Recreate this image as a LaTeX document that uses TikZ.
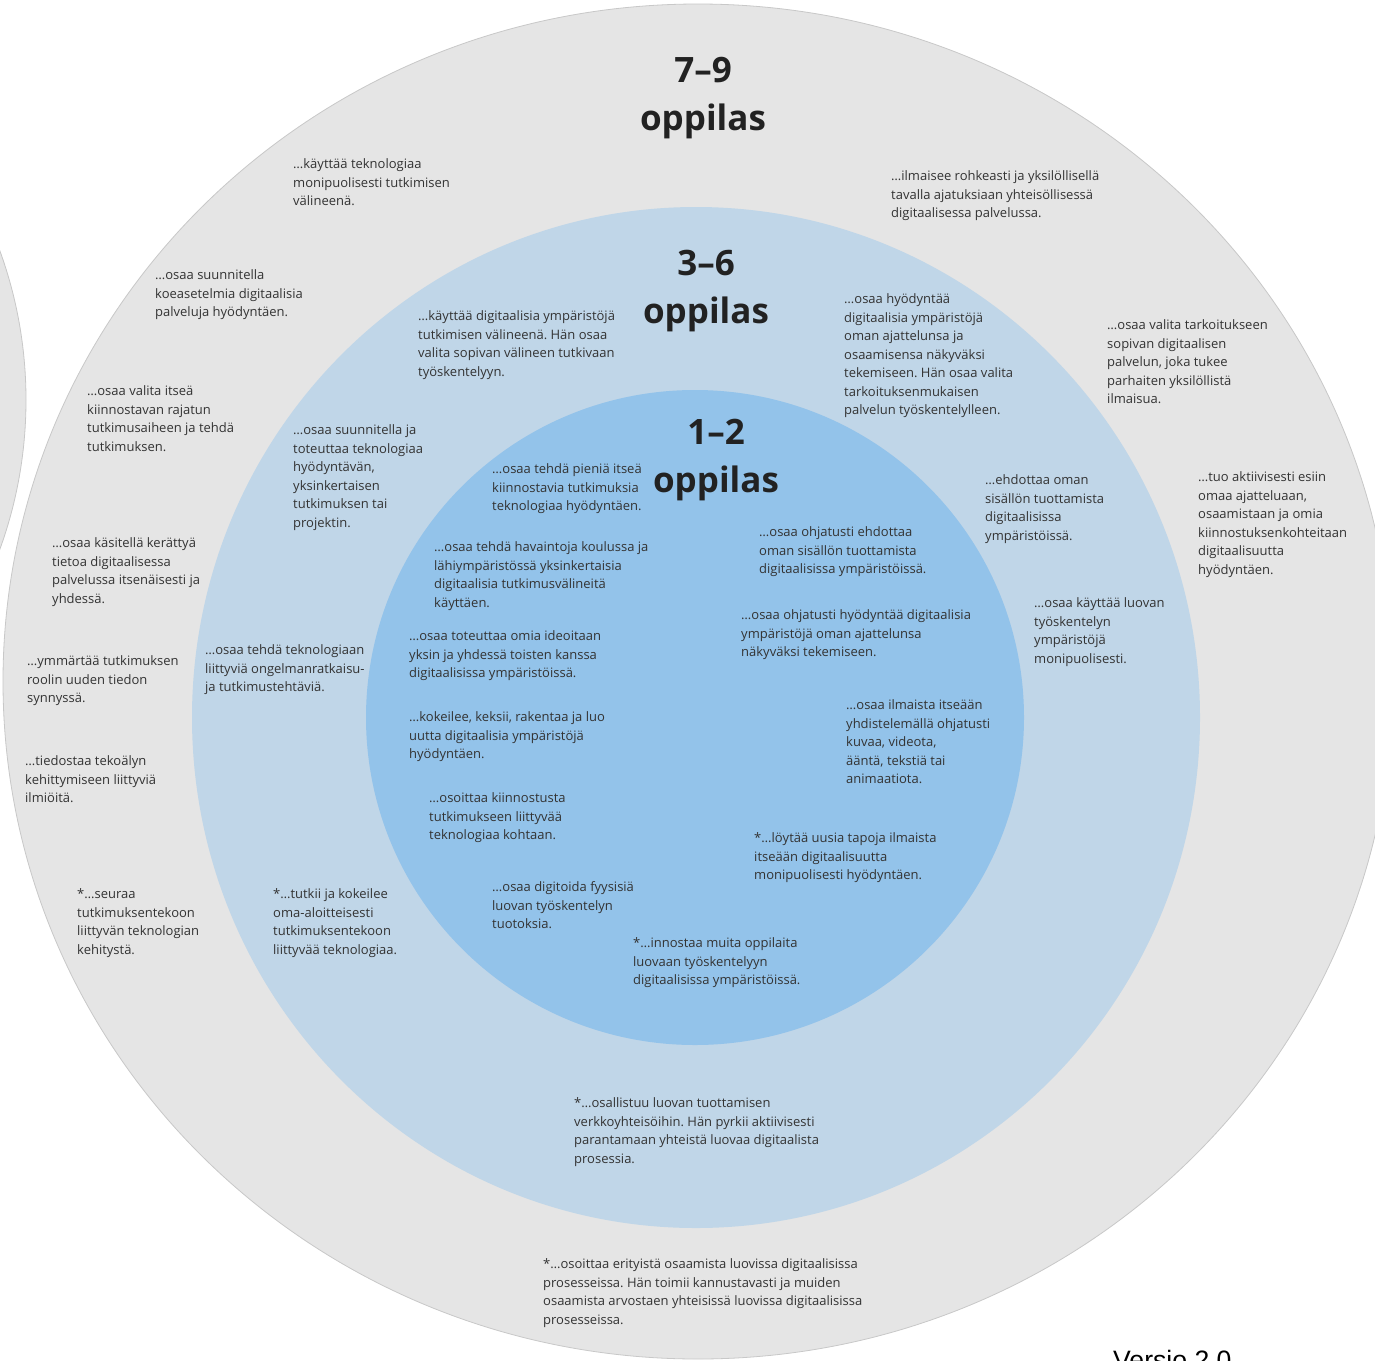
\documentclass[tikz,border=0pt]{standalone}
\usepackage{fontspec}
\setmainfont{Open Sans}
\newfontfamily\versiofont{Liberation Sans}
\definecolor{outerfill}{HTML}{E5E5E5}
\definecolor{outerline}{HTML}{C8C8C8}
\definecolor{midfill}{HTML}{C0D6E8}
\definecolor{innerfill}{HTML}{93C3EA}
\definecolor{txtgray}{HTML}{333333}
\definecolor{ttlgray}{HTML}{222222}
\frenchspacing
\begin{document}
\begin{tikzpicture}[x=1pt,y=-1pt,
  txt/.style={anchor=base west, inner sep=0pt, align=left, text=txtgray,
    font=\fontsize{13}{18.5}\selectfont},
  ttl/.style={anchor=base, inner sep=0pt, align=center, text=ttlgray,
    font=\fontsize{35}{48}\selectfont\bfseries}]
\useasboundingbox (0,0) rectangle (1375,1360);
\clip (0,0) rectangle (1375,1360);
\fill[white] (0,0) rectangle (1375,1360);
% neighbouring circle at the left edge
\filldraw[fill=outerfill, draw=outerline, line width=0.8pt] (-411,400) circle [radius=437pt];
% rings
\filldraw[fill=outerfill, draw=outerline, line width=0.8pt] (698,681.5) ellipse [x radius=695pt, y radius=677.5pt];
\fill[midfill] (696,717.5) ellipse [x radius=504pt, y radius=510.5pt];
\fill[innerfill] (695,717.5) ellipse [x radius=329pt, y radius=327.5pt];
% titles (anchor = baseline of the last line)
\node[ttl] (t79) at (703,130) {7–9\\oppilas};
\node[ttl] (t36) at (706,323) {3–6\\oppilas};
\node[ttl] (t12) at (716,492) {1–2\\oppilas};
% outer ring texts (anchor = baseline of the last line)
\node[txt] (o1) at (293,205.5) {…käyttää teknologiaa\\monipuolisesti tutkimisen\\välineenä.};
\node[txt] (o2) at (891,217.5) {…ilmaisee rohkeasti ja yksilöllisellä\\tavalla ajatuksiaan yhteisöllisessä\\digitaalisessa palvelussa.};
\node[txt] (o3) at (155,316.5) {…osaa suunnitella\\koeasetelmia digitaalisia\\palveluja hyödyntäen.};
\node[txt] (o4) at (1107,403.5) {…osaa valita tarkoitukseen\\sopivan digitaalisen\\palvelun, joka tukee\\parhaiten yksilöllistä\\ilmaisua.};
\node[txt] (o5) at (87,451) {…osaa valita itseä\\kiinnostavan rajatun\\tutkimusaiheen ja tehdä\\tutkimuksen.};
\node[txt] (o6) at (1198,574) {…tuo aktiivisesti esiin\\omaa ajatteluaan,\\osaamistaan ja omia\\kiinnostuksenkohteitaan\\digitaalisuutta\\hyödyntäen.};
\node[txt] (o7) at (52,603) {…osaa käsitellä kerättyä\\tietoa digitaalisessa\\palvelussa itsenäisesti ja\\yhdessä.};
\node[txt] (o8) at (27,702.5) {…ymmärtää tutkimuksen\\roolin uuden tiedon\\synnyssä.};
\node[txt] (o9) at (25,802.5) {…tiedostaa tekoälyn\\kehittymiseen liittyviä\\ilmiöitä.};
\node[txt] (o10) at (77,954) {*…seuraa\\tutkimuksentekoon\\liittyvän teknologian\\kehitystä.};
\node[txt] (o11) at (543,1324) {*…osoittaa erityistä osaamista luovissa digitaalisissa\\prosesseissa. Hän toimii kannustavasti ja muiden\\osaamista arvostaen yhteisissä luovissa digitaalisissa\\prosesseissa.};
% middle ring texts
\node[txt] (m1) at (418,376) {…käyttää digitaalisia ympäristöjä\\tutkimisen välineenä. Hän osaa\\valita sopivan välineen tutkivaan\\työskentelyyn.};
\node[txt] (m2) at (844,414.5) {…osaa hyödyntää\\digitaalisia ympäristöjä\\oman ajattelunsa ja\\osaamisensa näkyväksi\\tekemiseen. Hän osaa valita\\tarkoituksenmukaisen\\palvelun työskentelylleen.};
\node[txt] (m3) at (293,527) {…osaa suunnitella ja\\toteuttaa teknologiaa\\hyödyntävän,\\yksinkertaisen\\tutkimuksen tai\\projektin.};
\node[txt] (m4) at (985,540) {…ehdottaa oman\\sisällön tuottamista\\digitaalisissa\\ympäristöissä.};
\node[txt] (m5) at (1034,663) {…osaa käyttää luovan\\työskentelyn\\ympäristöjä\\monipuolisesti.};
\node[txt] (m6) at (205,691.5) {…osaa tehdä teknologiaan\\liittyviä ongelmanratkaisu-\\ja tutkimustehtäviä.};
\node[txt] (m7) at (273,954) {*…tutkii ja kokeilee\\oma-aloitteisesti\\tutkimuksentekoon\\liittyvää teknologiaa.};
\node[txt] (m8) at (574,1163) {*…osallistuu luovan tuottamisen\\verkkoyhteisöihin. Hän pyrkii aktiivisesti\\parantamaan yhteistä luovaa digitaalista\\prosessia.};
% inner circle texts
\node[txt] (i1) at (492,510.5) {…osaa tehdä pieniä itseä\\kiinnostavia tutkimuksia\\teknologiaa hyödyntäen.};
\node[txt] (i2) at (434,607) {…osaa tehdä havaintoja koulussa ja\\lähiympäristössä yksinkertaisia\\digitaalisia tutkimusvälineitä\\käyttäen.};
\node[txt] (i3) at (759,573.5) {…osaa ohjatusti ehdottaa\\oman sisällön tuottamista\\digitaalisissa ympäristöissä.};
\node[txt] (i4) at (741,656.5) {…osaa ohjatusti hyödyntää digitaalisia\\ympäristöjä oman ajattelunsa\\näkyväksi tekemiseen.};
\node[txt] (i5) at (409,677.5) {…osaa toteuttaa omia ideoitaan\\yksin ja yhdessä toisten kanssa\\digitaalisissa ympäristöissä.};
\node[txt] (i6) at (846,783.5) {…osaa ilmaista itseään\\yhdistelemällä ohjatusti\\kuvaa, videota,\\ääntä, tekstiä tai\\animaatiota.};
\node[txt] (i7) at (409,758.5) {…kokeilee, keksii, rakentaa ja luo\\uutta digitaalisia ympäristöjä\\hyödyntäen.};
\node[txt] (i8) at (429,839.5) {…osoittaa kiinnostusta\\tutkimukseen liittyvää\\teknologiaa kohtaan.};
\node[txt] (i9) at (754,879.5) {*…löytää uusia tapoja ilmaista\\itseään digitaalisuutta\\monipuolisesti hyödyntäen.};
\node[txt] (i10) at (492,928.5) {…osaa digitoida fyysisiä\\luovan työskentelyn\\tuotoksia.};
\node[txt] (i11) at (633,984.5) {*…innostaa muita oppilaita\\luovaan työskentelyyn\\digitaalisissa ympäristöissä.};
% version label (cut by the page edge, as in the reference)
\node[anchor=base west, inner sep=0pt, font=\versiofont\fontsize{26.6}{30}\selectfont] (ver) at (1113,1369) {Versio 2.0};
\end{tikzpicture}
\end{document}
